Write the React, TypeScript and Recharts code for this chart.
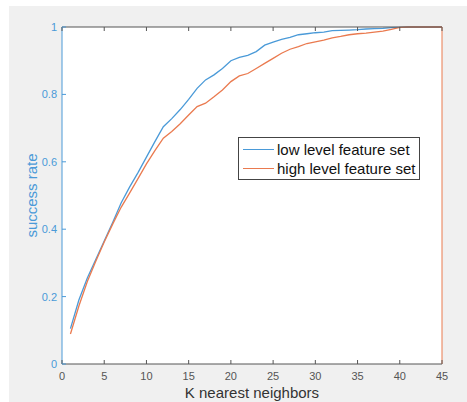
import {
  CartesianGrid,
  Legend,
  Line,
  LineChart,
  XAxis,
  YAxis,
} from 'recharts';

// K values along the x axis
const kValues = [
  1, 2, 3, 4, 5, 6, 7, 8, 9, 10, 11, 12, 13, 14, 15, 16, 17, 18, 19, 20, 21, 22, 23,
  24, 25, 26, 27, 28, 29, 30, 31, 32, 33, 34, 35, 36, 37, 38, 39, 40, 41, 42, 43, 44, 45,
];

const lowLevel = [
  0.105, 0.19, 0.255, 0.31, 0.365, 0.42, 0.478, 0.525, 0.568, 0.614, 0.66, 0.704, 0.728,
  0.755, 0.785, 0.818, 0.843, 0.858, 0.877, 0.9, 0.91, 0.916, 0.927, 0.946, 0.955, 0.963,
  0.969, 0.977, 0.98, 0.983, 0.985, 0.989, 0.99, 0.991, 0.992, 0.994, 0.995, 0.996, 0.998,
  0.999, 1, 1, 1, 1, 1,
];

const highLevel = [
  0.089, 0.172, 0.245, 0.305, 0.362, 0.415, 0.465, 0.507, 0.55, 0.594, 0.633, 0.67, 0.69,
  0.713, 0.739, 0.764, 0.774, 0.793, 0.813, 0.838, 0.855, 0.862, 0.877, 0.892, 0.907, 0.922,
  0.934, 0.942, 0.951, 0.956, 0.961, 0.968, 0.972, 0.977, 0.98, 0.982, 0.985, 0.988, 0.993,
  0.999, 1, 1, 1, 1, 1,
];

const xTicks = [0, 5, 10, 15, 20, 25, 30, 35, 40, 45];
const yTicks = [0, 0.2, 0.4, 0.6, 0.8, 1];

const seriesNames = ['low level feature set', 'high level feature set'];

const BLUE = '#4a9ad8';
const ORANGE = '#ea7a4f';
const AXIS = '#555555';
const FONT = '"Liberation Sans", Arial, sans-serif';

const data = kValues.map((k, i) => ({ k, low: lowLevel[i], high: highLevel[i] }));

// ticks point inward like matlab
const BottomTick = ({ x, y, payload }: any) => (
  <g>
    <line x1={x} y1={y} x2={x} y2={y - 4} stroke={AXIS} />
    <text x={x} y={y + 16} textAnchor="middle" fontSize={11} fill="#555" fontFamily={FONT}>
      {payload.value}
    </text>
  </g>
);

const TopTick = ({ x, y }: any) => (
  <line x1={x} y1={y} x2={x} y2={y + 4} stroke={AXIS} />
);

const LeftTick = ({ x, y, payload }: any) => (
  <g>
    <line x1={x} y1={y} x2={x + 4} y2={y} stroke={BLUE} />
    <text x={x - 5} y={y + 4} textAnchor="end" fontSize={11} fill={BLUE} fontFamily={FONT}>
      {payload.value}
    </text>
  </g>
);

const RightTick = ({ x, y, payload }: any) => (
  <g>
    <line x1={x} y1={y} x2={x - 4} y2={y} stroke={ORANGE} />
    <text x={x + 5} y={y + 4} textAnchor="start" fontSize={11} fill={ORANGE} fontFamily={FONT}>
      {payload.value}
    </text>
  </g>
);

const renderLegend = () => (
  <div
    style={{
      width: 182,
      height: 43,
      background: '#fff',
      border: '1px solid #444',
      fontFamily: FONT,
      fontSize: 15,
      color: '#111',
      boxSizing: 'border-box',
      paddingTop: 2,
    }}
  >
    {seriesNames.map((name, i) => (
      <div key={name} style={{ display: 'flex', alignItems: 'center', height: 19 }}>
        <div
          style={{
            width: 31,
            height: 0,
            borderTop: `1.3px solid ${i === 0 ? BLUE : ORANGE}`,
            marginLeft: 4,
            marginRight: 3,
          }}
        />
        <span>{name}</span>
      </div>
    ))}
  </div>
);

export default function App() {
  return (
    <div style={{ position: 'relative', width: 467, height: 402, background: '#fff' }}>
      <style>{'body{margin:0}'}</style>
      <div
        style={{
          position: 'absolute',
          left: 9,
          top: 6,
          width: 458,
          height: 396,
          background: '#f0f0f0',
        }}
      />
      <div style={{ position: 'absolute', left: 0, top: 0 }}>
        <LineChart
          width={467}
          height={402}
          data={data}
          margin={{ top: 0, right: 0, bottom: 0, left: 0 }}
        >
          <CartesianGrid fill="#fff" horizontal={false} vertical={false} />
          <XAxis
            dataKey="k"
            type="number"
            domain={[0, 45]}
            ticks={xTicks}
            xAxisId="bottom"
            height={38}
            tickSize={0}
            tickMargin={0}
            tickLine={false}
            stroke={AXIS}
            tick={<BottomTick />}
            label={{
              value: 'K nearest neighbors',
              position: 'insideBottom',
              offset: 4,
              fontSize: 15,
              fill: '#333',
              fontFamily: FONT,
            }}
          />
          <XAxis
            dataKey="k"
            type="number"
            domain={[0, 45]}
            ticks={xTicks}
            xAxisId="top"
            orientation="top"
            height={27}
            tickSize={0}
            tickMargin={0}
            tickLine={false}
            stroke={AXIS}
            tick={<TopTick />}
          />
          <YAxis
            yAxisId="left"
            domain={[0, 1]}
            ticks={yTicks}
            width={62}
            tickSize={0}
            tickMargin={0}
            tickLine={false}
            stroke={BLUE}
            tick={<LeftTick />}
            label={{
              value: 'success rate',
              angle: -90,
              position: 'insideLeft',
              offset: 32,
              style: { textAnchor: 'middle' },
              fontSize: 15,
              fill: BLUE,
              fontFamily: FONT,
            }}
          />
          <YAxis
            yAxisId="right"
            orientation="right"
            domain={[0, 1]}
            ticks={yTicks}
            width={25}
            tickSize={0}
            tickMargin={0}
            tickLine={false}
            stroke={ORANGE}
            tick={<RightTick />}
          />
          <Legend
            layout="vertical"
            verticalAlign="middle"
            align="center"
            wrapperStyle={{ left: 238, top: 137, width: 182 }}
            content={renderLegend}
          />
          <Line
            xAxisId="bottom"
            yAxisId="left"
            type="linear"
            dataKey="low"
            name={seriesNames[0]}
            stroke={BLUE}
            strokeWidth={1.3}
            dot={false}
            isAnimationActive={false}
          />
          <Line
            xAxisId="bottom"
            yAxisId="left"
            type="linear"
            dataKey="high"
            name={seriesNames[1]}
            stroke={ORANGE}
            strokeWidth={1.3}
            dot={false}
            isAnimationActive={false}
          />
        </LineChart>
      </div>
    </div>
  );
}
